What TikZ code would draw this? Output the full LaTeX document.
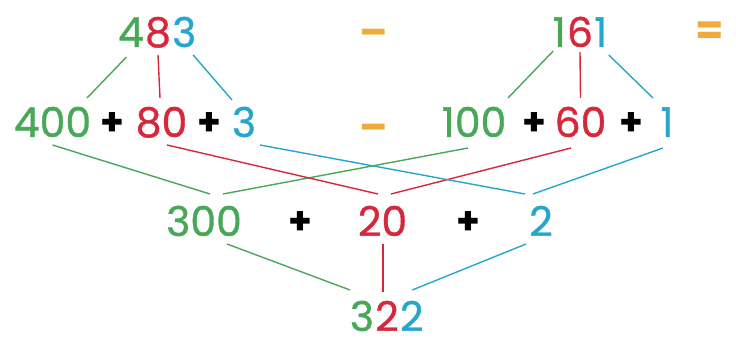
\documentclass[tikz,border=0pt]{standalone}
\usepackage{fontspec}
\setmainfont{Poppins}[Numbers=Proportional]
\newfontfamily\digfont{Poppins}[Numbers=Proportional, FakeBold=0.9]
\usetikzlibrary{calc}
\definecolor{cg}{HTML}{48A858}
\definecolor{cr}{HTML}{D6283A}
\definecolor{cb}{HTML}{26A6CC}
\definecolor{co}{HTML}{F0AA3C}
\begin{document}
\begin{tikzpicture}[x=1pt,y=-1pt,
  dg/.style={inner sep=0pt, outer sep=0pt, anchor=base, font=\fontsize{41}{41}\digfont},
  cd/.style={dg, inner xsep=0.6pt},
  pl/.style={dg, text=black, font=\fontsize{38}{38}\selectfont\bfseries},
  op/.style={dg, text=co, font=\fontsize{41}{41}\selectfont\bfseries},
  lk/.style={line width=1.4pt}]
\useasboundingbox (0,0) rectangle (736,344);
% row 1
\node[cd,text=cr] (a8) at (158,47) {8};
\node[cd,text=cg,anchor=base east] (a4) at (a8.base west) {4};
\node[cd,text=cb,anchor=base west] (a3) at (a8.base east) {3};
\node[op] (m1) at (374,47) {–};
\node[cd,text=cr] (b6) at (580,47) {6};
\node[cd,text=cg,anchor=base east] (b1) at (b6.base west) {1};
\node[cd,text=cb,anchor=base west] (b1r) at (b6.base east) {1};
\node[op] (eq) at (710,45) {=};
% row 2
\node[dg,text=cg] (n400) at (52.5,137) {400};
\node[pl] (p1) at (112,136) {+};
\node[dg,text=cr] (n80) at (161.5,137) {80};
\node[pl] (p2) at (209,136) {+};
\node[dg,text=cb] (n3) at (244,137) {3};
\node[op] (m2) at (374,142) {–};
\node[dg,text=cg] (n100) at (474,137) {100};
\node[pl] (p3) at (534,136) {+};
\node[dg,text=cr] (n60) at (580.5,137) {60};
\node[pl] (p4) at (631,136) {+};
\node[dg,text=cb] (n1) at (667,137) {1};
% row 3
\node[dg,text=cg] (n300) at (204,236) {300};
\node[pl] (p5) at (300,235) {+};
\node[dg,text=cr] (n20) at (382.5,236) {20};
\node[pl] (p6) at (468,235) {+};
\node[dg,text=cb] (n2) at (541,236) {2};
% row 4
\node[cd,text=cr] (c2) at (387,331) {2};
\node[cd,text=cg,anchor=base east] (c3) at (c2.base west) {3};
\node[cd,text=cb,anchor=base west] (c2r) at (c2.base east) {2};
% connectors row1-row2
\draw[lk,cg] ($(a4.base)+(-4.5,10)$) -- ($(n400.base)+(34.5,-39)$);
\draw[lk,cr] ($(a8.base)+(0,8)$) -- ($(n80.base)+(-1.5,-39)$);
\draw[lk,cb] ($(a3.base)+(9,8)$) -- ($(n3.base)+(-12,-37)$);
\draw[lk,cg] ($(b1.base)+(-6,4)$) -- ($(n100.base)+(34,-39)$);
\draw[lk,cr] ($(b6.base)+(0,5)$) -- ($(n60.base)+(0,-39)$);
\draw[lk,cb] ($(b1r.base)+(8,8)$) -- ($(n1.base)+(-14,-39)$);
% row2-row3
\draw[lk,cg] ($(n400.base)+(0,8)$) -- ($(n300.base)+(6,-42)$);
\draw[lk,cg] ($(n100.base)+(-6,11)$) -- ($(n300.base)+(19,-42)$);
\draw[lk,cr] ($(n80.base)+(5.5,8)$) -- ($(n20.base)+(-4.5,-42)$);
\draw[lk,cr] ($(n60.base)+(-9.5,11)$) -- ($(n20.base)+(8.5,-42)$);
\draw[lk,cb] ($(n3.base)+(16,8)$) -- ($(n2.base)+(-16,-42)$);
\draw[lk,cb] ($(n1.base)+(-4,11)$) -- ($(n2.base)+(-8,-42)$);
% row3-row4
\draw[lk,cg] ($(n300.base)+(23,8)$) -- ($(c3.base)+(-12,-41)$);
\draw[lk,cr] ($(n20.base)+(0.5,8)$) -- ($(c2.base)+(-4,-39)$);
\draw[lk,cb] ($(n2.base)+(-15,8)$) -- ($(c2r.base)+(0.5,-41)$);
\end{tikzpicture}
\end{document}
